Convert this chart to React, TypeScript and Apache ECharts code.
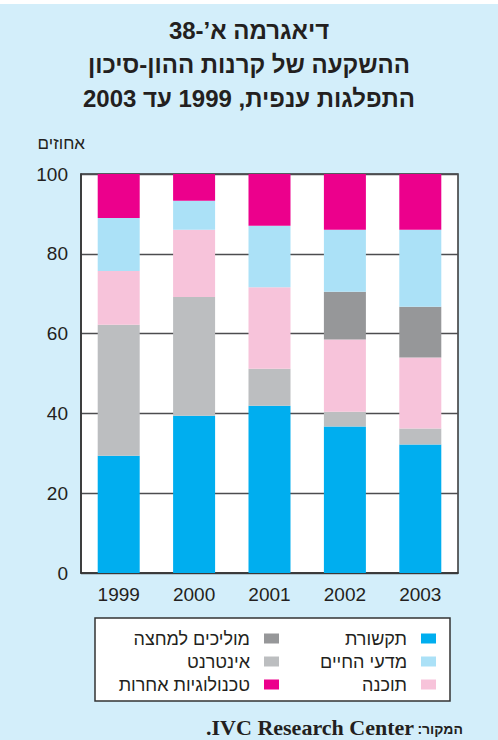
import React, { useEffect, useRef } from 'react';
import * as echarts from 'echarts';

const years = ['1999', '2000', '2001', '2002', '2003'];

const communications = [29.4, 39.4, 41.9, 36.7, 32.2];
const internet = [32.8, 29.8, 9.3, 3.7, 4.0];
const software = [13.5, 16.8, 20.4, 18.1, 17.8];
const semiconductors = [0, 0, 0, 12.0, 12.7];
const lifeSciences = [13.3, 7.3, 15.4, 15.5, 19.3];
const otherTech = [11.0, 6.7, 13.0, 14.0, 14.0];

const seriesNames = ['תקשורת', 'אינטרנט', 'תוכנה', 'מוליכים למחצה', 'מדעי החיים', 'טכנולוגיות אחרות'];
const seriesColors = ['#00AEEF', '#BCBEC0', '#F7C3DA', '#969799', '#ABE1F7', '#EC008C'];
const seriesValues = [communications, internet, software, semiconductors, lifeSciences, otherTech];

const legendRight = ['תקשורת', 'מדעי החיים', 'תוכנה'];
const legendLeft = ['מוליכים למחצה', 'אינטרנט', 'טכנולוגיות אחרות'];

const titleLines = ['דיאגרמה א’-38', 'ההשקעה של קרנות ההון-סיכון', 'התפלגות ענפית, 1999 עד 2003'];
const yAxisTitle = 'אחוזים';
const sourceLabel = 'המקור:\u200F';
const sourceName = '\u202BIVC Research Center.\u202C';

const TEXT = '#231F20';
const FONT = 'Liberation Sans';

export default function App() {
  const ref = useRef<HTMLDivElement>(null);

  useEffect(() => {
    const chart = echarts.init(ref.current!, null, { renderer: 'svg' });

    const legendCommon = {
      orient: 'vertical' as const,
      align: 'right' as const,
      top: 629.5,
      padding: 0,
      itemWidth: 15,
      itemHeight: 10,
      itemGap: 5,
      icon: 'rect',
      selectedMode: false,
      textStyle: { fontSize: 18, lineHeight: 16, color: TEXT, fontFamily: FONT, padding: [0, 9, 0, 0] },
    };

    chart.setOption({
      animation: false,
      backgroundColor: '#ffffff',
      textStyle: { fontFamily: FONT },
      title: {
        text: titleLines.join('\n'),
        left: 'center',
        top: 13,
        padding: [0, 0, 0, 16],
        textStyle: { fontSize: 24, fontWeight: 'bold', lineHeight: 34, color: TEXT, fontFamily: FONT },
      },
      legend: [
        { ...legendCommon, right: 62, data: legendRight },
        { ...legendCommon, right: 219, data: legendLeft },
      ],
      grid: {
        left: 81,
        right: 40,
        top: 174,
        bottom: 167,
        show: true,
        backgroundColor: '#ffffff',
        borderColor: '#333333',
        borderWidth: 1.5,
      },
      xAxis: {
        type: 'category',
        data: years,
        axisLine: { lineStyle: { color: '#333333', width: 1.5 } },
        axisTick: { show: false },
        axisLabel: { fontSize: 19, color: TEXT, margin: 12, fontFamily: FONT },
      },
      yAxis: {
        type: 'value',
        min: 0,
        max: 100,
        interval: 20,
        axisLine: { show: true, lineStyle: { color: '#333333', width: 1.5 } },
        axisTick: { show: false },
        axisLabel: { fontSize: 19, color: TEXT, margin: 13, fontFamily: FONT },
        splitLine: { lineStyle: { color: '#4D4D4F', width: 1.4 } },
      },
      graphic: [
        { type: 'rect', z: -10, shape: { x: 0, y: 4, width: 498, height: 736 }, style: { fill: '#D3EEFA' } },
        { type: 'rect', z: 1, shape: { x: 95, y: 618, width: 355, height: 83 }, style: { fill: '#ffffff', stroke: '#333333', lineWidth: 1.5 } },
        {
          type: 'text', x: 85, y: 143,
          style: { text: yAxisTitle, fill: TEXT, fontSize: 17, fontFamily: FONT, textAlign: 'right', textVerticalAlign: 'middle' },
        },
        {
          type: 'text', x: 463, y: 729,
          style: { text: sourceLabel, fill: TEXT, fontSize: 14, fontWeight: 'bold', fontFamily: FONT, textAlign: 'right', textVerticalAlign: 'middle' },
        },
        {
          type: 'text', x: 414, y: 727,
          style: { text: sourceName, fill: TEXT, fontSize: 22, fontWeight: 'bold', fontFamily: 'Liberation Serif', textAlign: 'right', textVerticalAlign: 'middle' },
        },
      ],
      series: seriesNames.map((name, i) => ({
        name,
        type: 'bar',
        stack: 'total',
        barWidth: 42,
        data: seriesValues[i],
        itemStyle: { color: seriesColors[i] },
      })),
    });

    return () => chart.dispose();
  }, []);

  return <div ref={ref} style={{ position: 'fixed', left: 0, top: 0, width: 498, height: 740 }} />;
}
